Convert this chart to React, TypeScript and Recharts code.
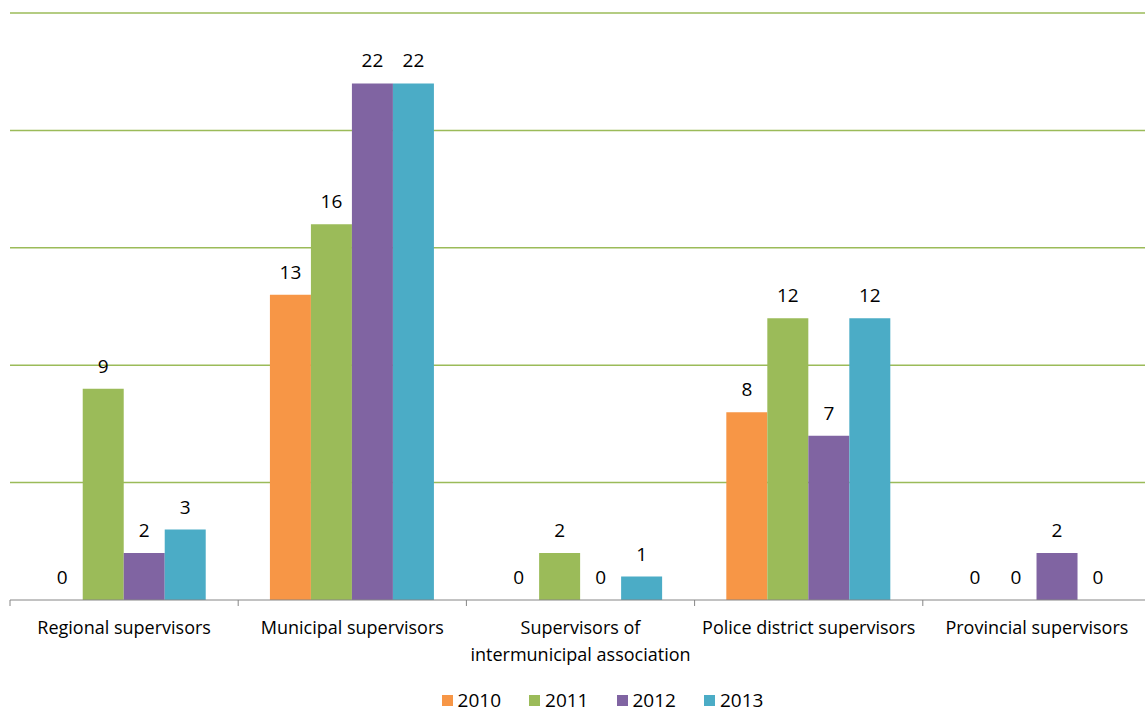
import { Bar, BarChart, CartesianGrid, LabelList, Legend, XAxis, YAxis } from "recharts";

const categories = [
  "Regional supervisors",
  "Municipal supervisors",
  "Supervisors of\nintermunicipal association",
  "Police district supervisors",
  "Provincial supervisors",
];

const values2010 = [0, 13, 0, 8, 0];
const values2011 = [9, 16, 2, 12, 0];
const values2012 = [2, 22, 0, 7, 2];
const values2013 = [3, 22, 1, 12, 0];

const yTicks = [0, 5, 10, 15, 20, 25];

const series = [
  { key: "y2010", name: "2010", color: "#F79646" },
  { key: "y2011", name: "2011", color: "#9BBB59" },
  { key: "y2012", name: "2012", color: "#8064A2" },
  { key: "y2013", name: "2013", color: "#4BACC6" },
];

const data = categories.map((name, i) => ({
  name,
  y2010: values2010[i],
  y2011: values2011[i],
  y2012: values2012[i],
  y2013: values2013[i],
}));

const FONT = "'Open Sans', sans-serif";
const AXIS_GREY = "#868686";

// category label plus a small tick at each band boundary
const CategoryTick = (props: any) => {
  const { x, y, payload, index, visibleTicksCount } = props;
  const half = payload && payload.offset ? payload.offset : 114;
  const lines = String(payload.value).split("\n");
  const axisY = y - 6;
  return (
    <g>
      <line x1={x - half} y1={axisY} x2={x - half} y2={axisY + 6} stroke={AXIS_GREY} />
      {index === visibleTicksCount - 1 && (
        <line x1={x + half} y1={axisY} x2={x + half} y2={axisY + 6} stroke={AXIS_GREY} />
      )}
      <text x={x} y={axisY + 34} textAnchor="middle" fontSize={18} fontFamily={FONT} fill="#000">
        {lines.map((line, i) => (
          <tspan key={i} x={x} dy={i === 0 ? 0 : 27}>
            {line}
          </tspan>
        ))}
      </text>
    </g>
  );
};

// value label drawn for every bar, zeros included
const ValueLabel = (props: any) => {
  const { x, y, width, value } = props;
  return (
    <text
      x={x + width / 2}
      y={y - 16}
      textAnchor="middle"
      fontSize={19}
      fontFamily={FONT}
      fill="#000"
    >
      {value}
    </text>
  );
};

const YearLegend = () => (
  <div
    style={{
      display: "flex",
      justifyContent: "center",
      alignItems: "center",
      height: 26,
      fontFamily: FONT,
      fontSize: 19,
      lineHeight: "26px",
      color: "#000",
    }}
  >
    {series.map((s) => (
      <div key={s.key} style={{ display: "flex", alignItems: "center", margin: "0 14px" }}>
        <span style={{ width: 11, height: 11, background: s.color, marginRight: 5 }} />
        <span>{s.name}</span>
      </div>
    ))}
  </div>
);

export default function App() {
  return (
    <div
      style={{
        position: "absolute",
        left: 0,
        top: 0,
        width: 1145,
        height: 713,
        overflow: "hidden",
        background: "#fff",
      }}
    >
      <BarChart
        width={1151}
        height={713}
        data={data}
        margin={{ top: 13, right: 0, left: 10, bottom: 0 }}
        barCategoryGap="13.9%"
        barGap={0}
      >
        <CartesianGrid
          vertical={false}
          horizontalValues={[5, 10, 15, 20, 25]}
          stroke="#9BBB59"
          strokeWidth={1.5}
        />
        <YAxis hide domain={[0, 25]} ticks={yTicks} />
        <XAxis
          dataKey="name"
          interval={0}
          height={87}
          tickSize={6}
          tickMargin={0}
          tickLine={false}
          axisLine={{ stroke: AXIS_GREY }}
          tick={<CategoryTick />}
        />
        <Legend
          verticalAlign="bottom"
          content={<YearLegend />}
          wrapperStyle={{ left: 60, width: 1085 }}
        />
        {series.map((s) => (
          <Bar
            key={s.key}
            dataKey={s.key}
            name={s.name}
            fill={s.color}
            minPointSize={0.01}
            isAnimationActive={false}
          >
            <LabelList dataKey={s.key} content={<ValueLabel />} />
          </Bar>
        ))}
      </BarChart>
    </div>
  );
}
